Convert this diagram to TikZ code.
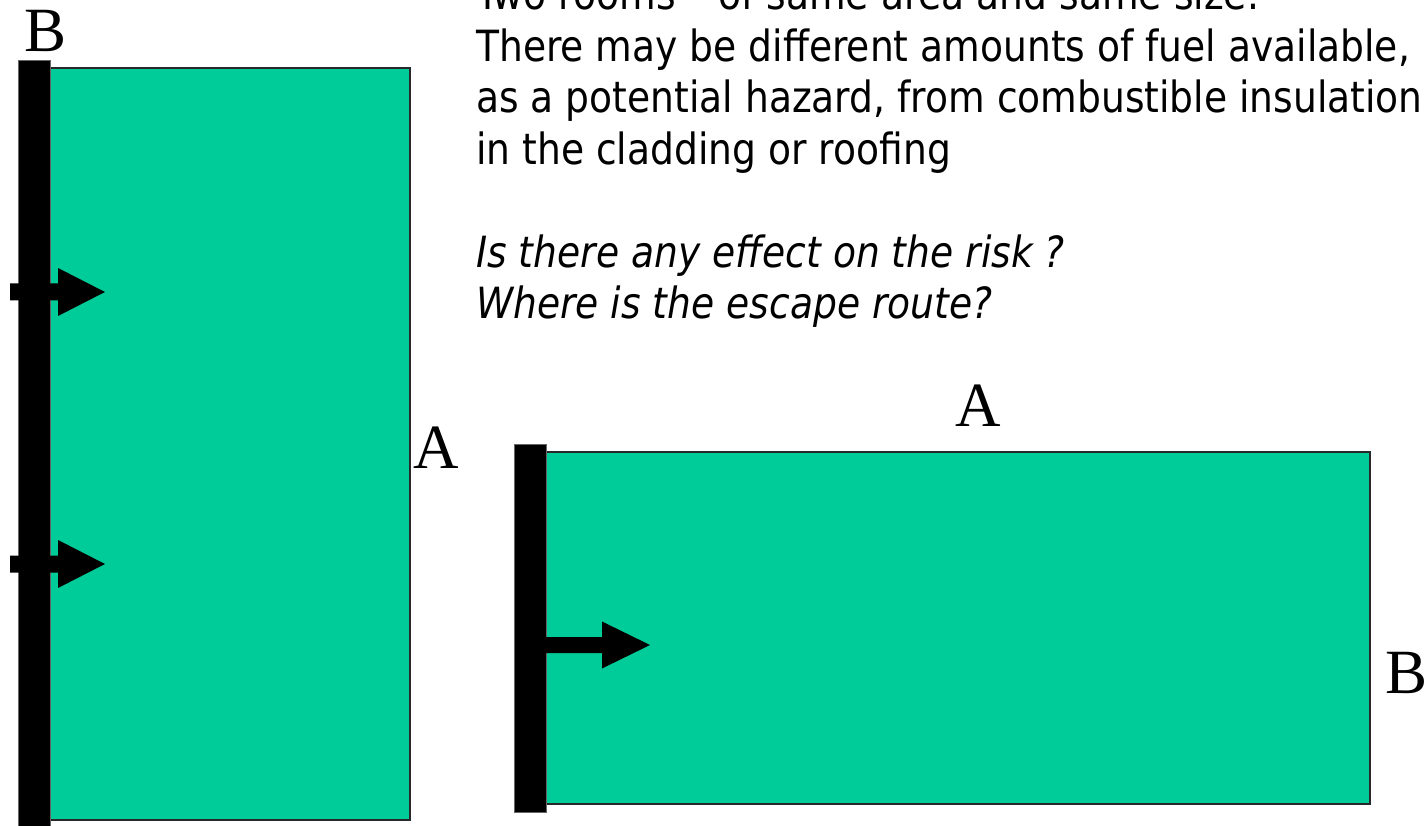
\documentclass[tikz,border=0pt]{standalone}
\usepackage{fontspec}
\setmainfont{Liberation Serif}
\newfontfamily\txtfont[FakeStretch=0.875]{DejaVu Sans}
\definecolor{roomgreen}{RGB}{0,204,153}
\definecolor{edgegray}{RGB}{40,40,40}
\tikzset{
  room/.style={fill=roomgreen, draw=edgegray, line width=1.4pt},
  wall/.style={fill=black, draw=black!60, line width=0.8pt},
  blockarrow/.style={fill=black, draw=none},
  txt/.style={anchor=base west, inner sep=0pt, font=\txtfont\fontsize{43}{51.5}\selectfont},
  itxt/.style={anchor=base west, inner sep=0pt, font=\txtfont\itshape\fontsize{43}{51.5}\selectfont},
  letter/.style={anchor=base, inner sep=0pt, font=\fontsize{63}{70}\selectfont}
}
\begin{document}
\begin{tikzpicture}[x=1pt,y=-1pt]
\useasboundingbox (0,0) rectangle (1428,826);
\clip (0,0) rectangle (1428,826);
\fill[white] (0,0) rectangle (1428,826);
% left room
\path[room] (48,68) rectangle (410,820);
\path[wall] (18,60) rectangle (50,830);
\path[blockarrow] (10,283.5) -- (58,283.5) -- (58,268) -- (105,292) -- (58,316) -- (58,300.5) -- (10,300.5) -- cycle;
\path[blockarrow] (10,555.5) -- (58,555.5) -- (58,540) -- (105,564) -- (58,588) -- (58,572.5) -- (10,572.5) -- cycle;
% right room
\path[room] (546,452) rectangle (1370,804);
\path[wall] (514,444) rectangle (546,812);
\path[blockarrow] (540,637) -- (602,637) -- (602,621.5) -- (650,645) -- (602,668.5) -- (602,653) -- (540,653) -- cycle;
% labels
\node[letter] (bl) at (46,52) {B};
\node[letter] (al) at (436,468) {A};
\node[letter] (ar) at (978,427) {A};
\node[letter] (br) at (1406,693) {B};
% text
\node[txt] (t0) at (476,10) {Two rooms \textendash\ of same area and same size.};
\node[txt] (t1) at (476,61.5) {There may be different amounts of fuel available,};
\node[txt] (t2) at (476,113) {as a potential hazard, from combustible insulation};
\node[txt] (t3) at (476,164.5) {in the cladding or roofing};
\node[itxt] (t4) at (476,267.5) {Is there any effect on the risk ?};
\node[itxt] (t5) at (476,319) {Where is the escape route?};
\end{tikzpicture}
\end{document}
